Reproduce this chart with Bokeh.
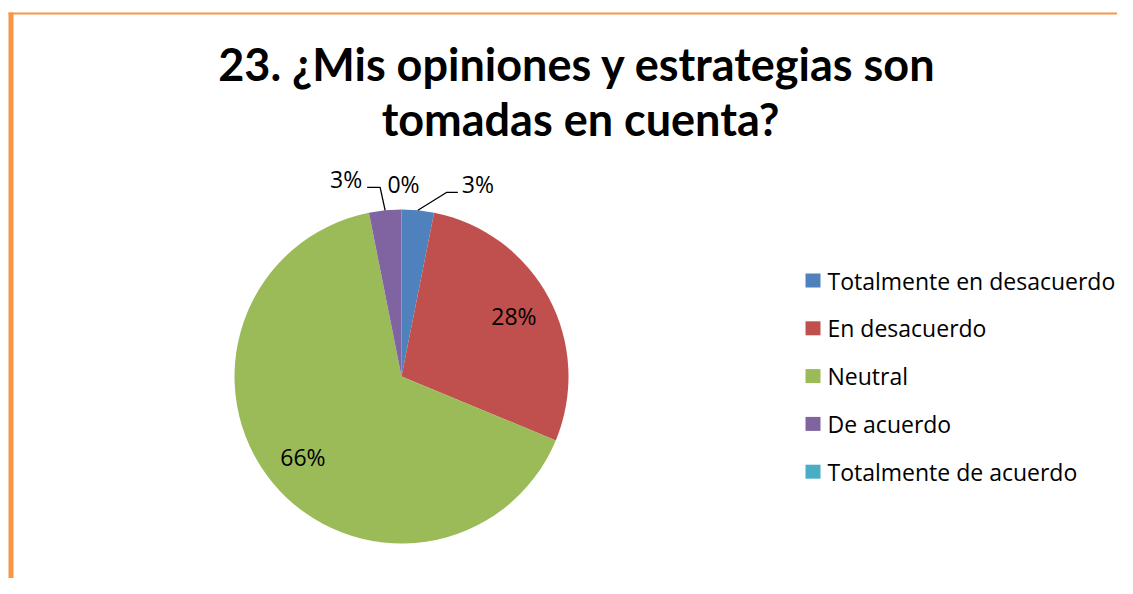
import math
from bokeh.plotting import figure
from bokeh.models import Range1d
from bokeh.core.properties import value
from bokeh.embed import file_html
from bokeh.resources import INLINE

# ---- data ----
title_lines = ["23. ¿Mis opiniones y estrategias son", "tomadas en cuenta?"]
categories = ["Totalmente en desacuerdo", "En desacuerdo", "Neutral", "De acuerdo", "Totalmente de acuerdo"]
counts = [1, 9, 21, 1, 0]
colors = ["#4F81BD", "#C0504D", "#9BBB59", "#8064A2", "#4BACC6"]

# ---- layout (screen px -> data; y data = 594 - screen y) ----
W, H = 1117, 578
TITLE_FONT = "Lato"
BODY_FONT = "Open Sans"
BODY_SIZE = "23px"
def Y(sy):
    return 594 - sy

cx, cy, R = 401, Y(376), 167

p = figure(width=W, height=H, x_range=Range1d(0, W), y_range=Range1d(594 - H, 594),
           output_backend="svg", toolbar_location=None, min_border=0)
p.axis.visible = False
p.grid.visible = False
p.outline_line_color = None
p.background_fill_color = "white"

# orange frame
p.quad(left=[8, 8], right=[13, W], top=[Y(12), Y(12)], bottom=[594 - H, Y(14)],
       fill_color="#F79646", line_color=None)

total = sum(counts)
fracs = [c / total for c in counts]
cum = [0.0]
for f in fracs:
    cum.append(cum[-1] + f)

starts, ends, cols = [], [], []
for i, f in enumerate(fracs):
    if f > 0:
        starts.append(math.pi / 2 - 2 * math.pi * cum[i])
        ends.append(math.pi / 2 - 2 * math.pi * cum[i + 1])
        cols.append(colors[i])
p.wedge(x=cx, y=cy, radius=R, start_angle=starts, end_angle=ends, direction="clock",
        fill_color=cols, line_color=None)

# labels
pct = [f"{round(f * 100)}%" for f in fracs]
lx, ly, lt = [], [], []
lead_xs, lead_ys = [], []
# outside-label offsets (layout only): (label dx, dy from edge, leader elbow, leader end)
outside = {0: (60, -26, (29, -18), (40, -18)), 3: (-39, -31, (-5, -23), (-18, -23)), 4: (2, -26, None, None)}
for i, f in enumerate(fracs):
    mid = (cum[i] + cum[i + 1]) / 2 * 2 * math.pi
    sx, sy = math.sin(mid), math.cos(mid)
    if i in outside:
        ex, ey = cx + R * sx, cy + R * sy
        dx, dy, e1, e2 = outside[i]
        lx.append(ex + dx)
        ly.append(ey - dy)
        if e1 is not None:
            lead_xs.append([ex, ex + e1[0], ex + e2[0]])
            lead_ys.append([ey, ey - e1[1], ey - e2[1]])
    else:
        r = 127.5
        lx.append(cx + r * sx)
        ly.append(cy + r * sy)
    lt.append(pct[i])
p.multi_line(xs=lead_xs, ys=lead_ys, line_color="black", line_width=1.3)
p.text(x=lx, y=ly, text=lt, text_align="center", text_baseline="middle",
       text_font=value(BODY_FONT), text_font_size=value(BODY_SIZE), text_color="black")

# title
p.text(x=[577, 580], y=[Y(63), Y(118)], text=title_lines, text_align="center",
       text_baseline="middle", text_font=value(TITLE_FONT), text_font_size=value("45px"),
       text_font_style="bold", text_color="black")

# legend
leg_y = [Y(280 + 47.8 * i) for i in range(len(categories))]
p.rect(x=[812.5] * len(categories), y=leg_y, width=15, height=14, fill_color=colors, line_color=None)
p.text(x=[827] * len(categories), y=leg_y, text=categories, text_align="left",
       text_baseline="middle", text_font=value(BODY_FONT), text_font_size=value(BODY_SIZE), text_color="black")

open("out.html", "w").write(file_html(p, INLINE))
